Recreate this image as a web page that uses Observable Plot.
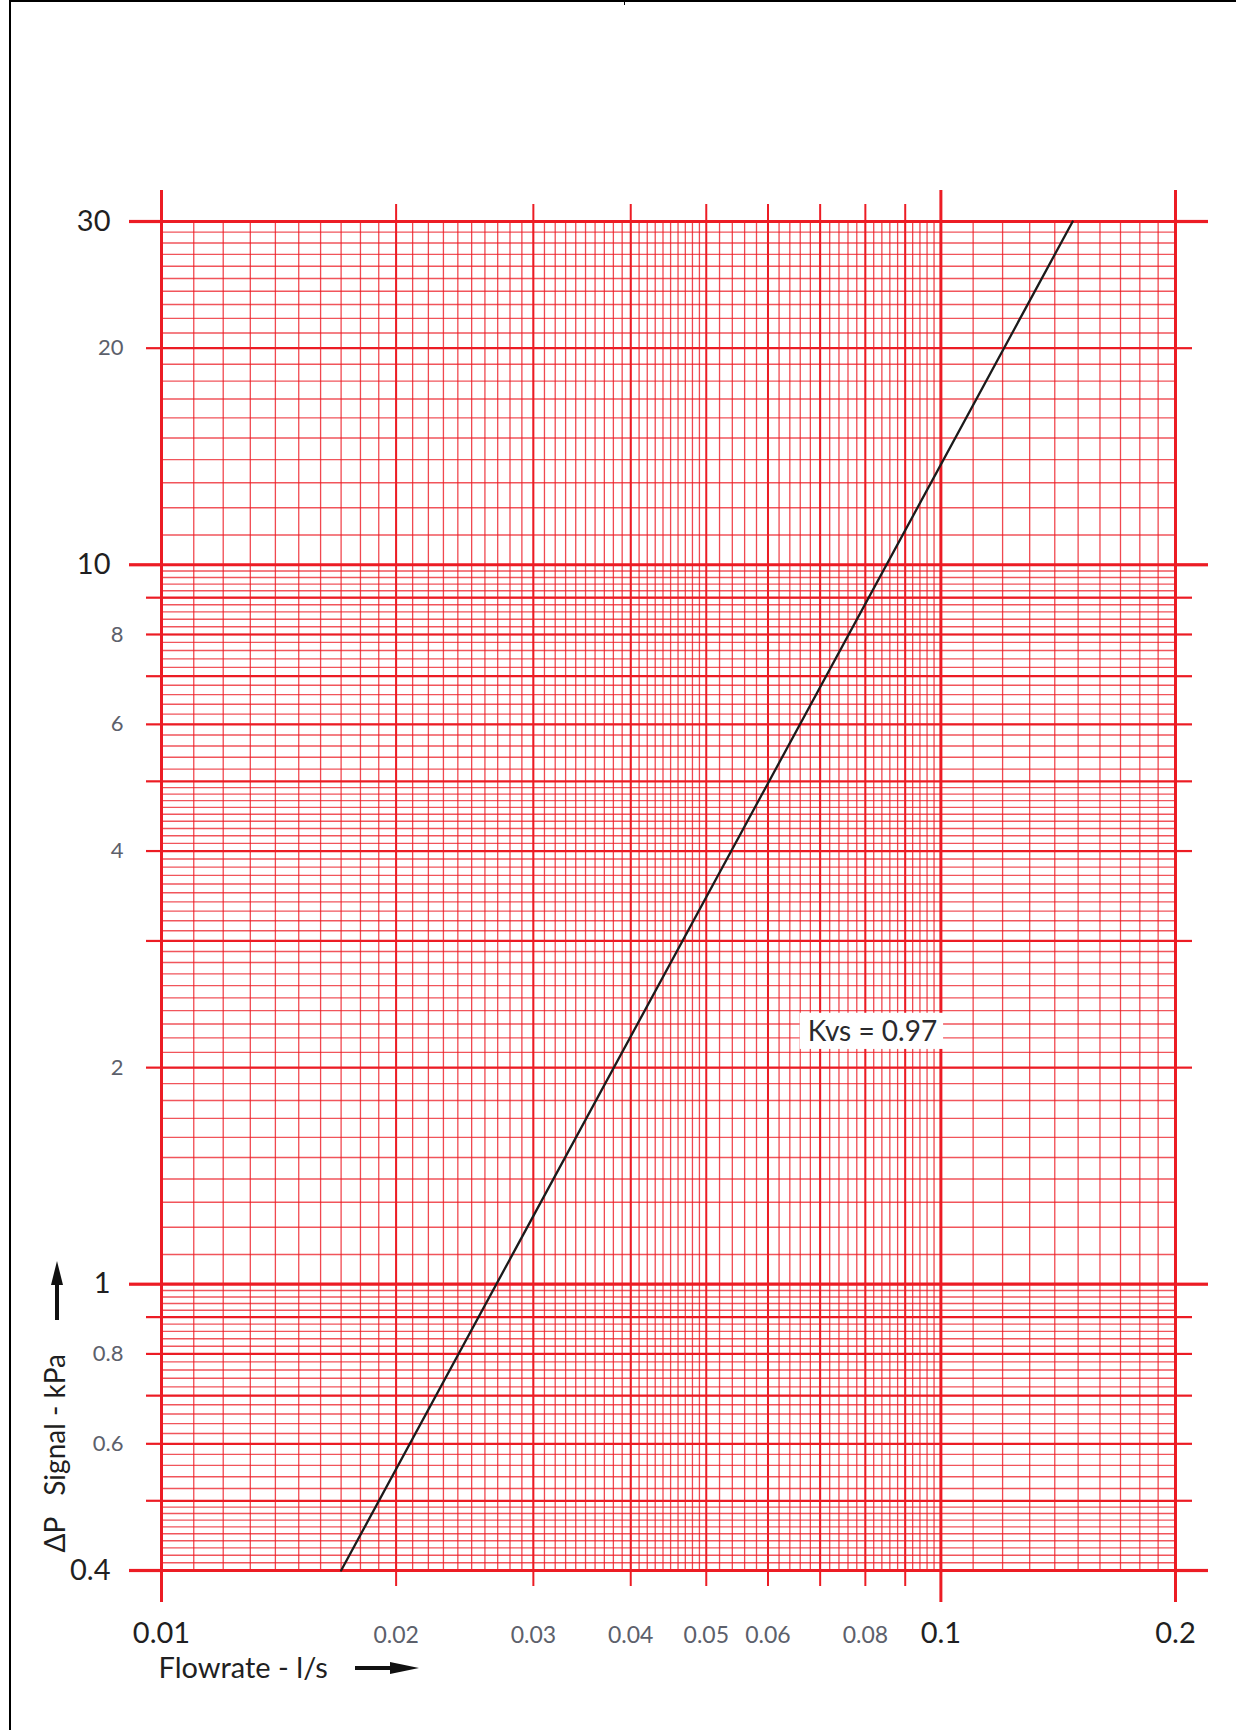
<!DOCTYPE html>
<html>
<head>
<meta charset="utf-8">
<script src="https://cdn.jsdelivr.net/npm/d3@7"></script>
<script src="https://cdn.jsdelivr.net/npm/@observablehq/plot@0.6"></script>
<style>
  html, body { margin: 0; padding: 0; background: #fff; }
  #page { position: relative; width: 1236px; height: 1730px; overflow: hidden; background: #fff; }
  #page > svg { position: absolute; left: 0; top: 0; overflow: visible; }
  .bl { position: absolute; left: 9px; top: 0; width: 2px; height: 1730px; background: #000; }
  .bt { position: absolute; left: 9px; top: 0; width: 1227px; height: 2px; background: #000; }
  .btick { position: absolute; left: 624px; top: 0; width: 1px; height: 5px; background: #000; }
  .arrow { position: absolute; }
</style>
</head>
<body>
<div id="page"></div>
<script>
// ---- Data ----
const flow = [0.0170, 0.1476];          // l/s (curve end points)
const dp = [0.4, 30];                   // kPa
const kvsText = "Kvs = 0.97";
const kvsAt = [{x: 0.0817, y: 2.24}];
const kvsBox = [{x1: 0.0660, x2: 0.1008, y1: 2.12, y2: 2.38}];

const xDomain = [0.01, 0.2];
const yDomain = [0.4, 30];

// grid / tick values
const xMajor = [0.01, 0.1, 0.2];
const xMedium = [0.02, 0.03, 0.04, 0.05, 0.06, 0.07, 0.08, 0.09];
const xMajorLabels = ["0.01", "0.1", "0.2"];
const xMinorTicks = [0.02, 0.03, 0.04, 0.05, 0.06, 0.08];
const xMinorLabels = ["0.02", "0.03", "0.04", "0.05", "0.06", "0.08"];

const yMajor = [0.4, 1, 10, 30];
const yMedium = [0.5, 0.6, 0.7, 0.8, 0.9, 2, 3, 4, 5, 6, 7, 8, 9, 20];
const yMajorLabels = ["0.4", "1", "10", "30"];
const yMinorTicks = [0.6, 0.8, 2, 4, 6, 8, 20];
const yMinorLabels = ["0.6", "0.8", "2", "4", "6", "8", "20"];

// fine ruling: [from, to, step]
const xFineSegments = [[0.01, 0.05, 0.001], [0.05, 0.1, 0.002], [0.1, 0.2, 0.01]];
const yFineSegments = [[0.4, 0.5, 0.01], [0.5, 1, 0.02], [1, 5, 0.1], [5, 10, 0.2], [10, 30, 1]];

const titleX = "Flowrate - l/s";
const titleY = "\u0394P\u2003Signal - kPa";

// ---- build ----
function expand(segs) {
  const out = [];
  for (const [a, b, s] of segs) {
    const n = Math.round((b - a) / s);
    for (let i = 1; i < n; i++) out.push(+(a + i * s).toFixed(4));
  }
  return out;
}
const xFine = expand(xFineSegments);
const yFine = expand(yFineSegments);
const curve = flow.map((f, i) => ({flow: f, dp: dp[i]}));
const lab = (vals, labels) => { const m = new Map(vals.map((v, i) => [v, labels[i]])); return d => m.get(d); };

const RED = "#ec1c24";
const DARK = "#1f1f22";
const GREY = "#5c606b";
const FONT = "Lato, 'Open Sans', sans-serif";

const chart = Plot.plot({
  width: 1236,
  height: 1730,
  marginLeft: 161,
  marginRight: 61,
  marginTop: 221,
  marginBottom: 160,
  x: {type: "log", domain: xDomain, label: null},
  y: {type: "log", domain: yDomain, label: null},
  style: {fontFamily: FONT, background: "transparent", overflow: "visible"},
  marks: [
    Plot.gridX(xFine, {stroke: RED, strokeWidth: 1.3, strokeOpacity: 0.8}),
    Plot.gridY(yFine, {stroke: RED, strokeWidth: 1.4, strokeOpacity: 0.75}),
    Plot.gridX(xMedium, {stroke: RED, strokeWidth: 2, strokeOpacity: 1}),
    Plot.gridY(yMedium, {stroke: RED, strokeWidth: 2.2, strokeOpacity: 1}),
    Plot.gridX(xMajor, {stroke: RED, strokeWidth: 3, strokeOpacity: 1}),
    Plot.gridY(yMajor, {stroke: RED, strokeWidth: 3.2, strokeOpacity: 1}),

    // ruling extensions beyond the frame
    Plot.axisX(xMajor, {anchor: "top", tickSize: 32, stroke: RED, strokeWidth: 3, fill: "none", label: null}),
    Plot.axisX(xMajor, {anchor: "bottom", tickSize: 32, stroke: RED, strokeWidth: 3, fill: "none", label: null}),
    Plot.axisX(xMedium, {anchor: "top", tickSize: 18, stroke: RED, strokeWidth: 2, fill: "none", label: null}),
    Plot.axisX(xMedium, {anchor: "bottom", tickSize: 16, stroke: RED, strokeWidth: 2, fill: "none", label: null}),
    Plot.axisY(yMajor, {anchor: "left", tickSize: 32, stroke: RED, strokeWidth: 3.2, fill: "none", label: null}),
    Plot.axisY(yMajor, {anchor: "right", tickSize: 32, stroke: RED, strokeWidth: 3.2, fill: "none", label: null}),
    Plot.axisY(yMedium, {anchor: "left", tickSize: 15, stroke: RED, strokeWidth: 2.2, fill: "none", label: null}),
    Plot.axisY(yMedium, {anchor: "right", tickSize: 16, stroke: RED, strokeWidth: 2.2, fill: "none", label: null}),

    // tick labels
    Plot.axisX(xMajor, {anchor: "bottom", tickSize: 0, tickPadding: 52, tickFormat: lab(xMajor, xMajorLabels),
      fontSize: 29, fill: DARK, label: null}),
    Plot.axisX(xMinorTicks, {anchor: "bottom", tickSize: 0, tickPadding: 56, tickFormat: lab(xMinorTicks, xMinorLabels),
      fontSize: 23, fill: GREY, label: null}),
    Plot.axisY(yMajor, {anchor: "left", tickSize: 0, tickPadding: 51, tickFormat: lab(yMajor, yMajorLabels),
      fontSize: 29, fill: DARK, label: null}),
    Plot.axisY(yMinorTicks, {anchor: "left", tickSize: 0, tickPadding: 38, tickFormat: lab(yMinorTicks, yMinorLabels),
      fontSize: 22, fill: GREY, label: null}),

    // Kvs annotation + curve
    Plot.rect(kvsBox, {x1: "x1", x2: "x2", y1: "y1", y2: "y2", fill: "white"}),
    Plot.line(curve, {x: "flow", y: "dp", stroke: "#1b1b1b", strokeWidth: 2.3}),
    Plot.text(kvsAt, {x: "x", y: "y", text: () => kvsText, fontSize: 28, fill: "#2a2a2e", textAnchor: "middle", lineAnchor: "middle"}),

    // axis titles
    Plot.text([titleX], {text: d => d, frameAnchor: "bottom-left", dx: -3, dy: 98, textAnchor: "start",
      lineAnchor: "middle", fontSize: 29, fill: DARK}),
    Plot.text([titleY], {text: d => d, frameAnchor: "bottom-left", rotate: -90, dx: -105, dy: -18,
      textAnchor: "start", lineAnchor: "middle", fontSize: 28, fill: DARK})
  ]
});

const page = document.getElementById("page");
page.appendChild(chart);
page.insertAdjacentHTML("beforeend", `
  <div class="bl"></div><div class="bt"></div><div class="btick"></div>
  <svg class="arrow" style="left:47px;top:1258px" width="20" height="66">
    <polygon points="10,3 4,27 16,27" fill="#111"/>
    <rect x="8" y="24" width="4" height="38" fill="#111"/>
  </svg>
  <svg class="arrow" style="left:352px;top:1656px" width="70" height="24">
    <rect x="3" y="10" width="40" height="4" fill="#111"/>
    <polygon points="67,12 38,6 38,18" fill="#111"/>
  </svg>
`);
</script>
</body>
</html>
